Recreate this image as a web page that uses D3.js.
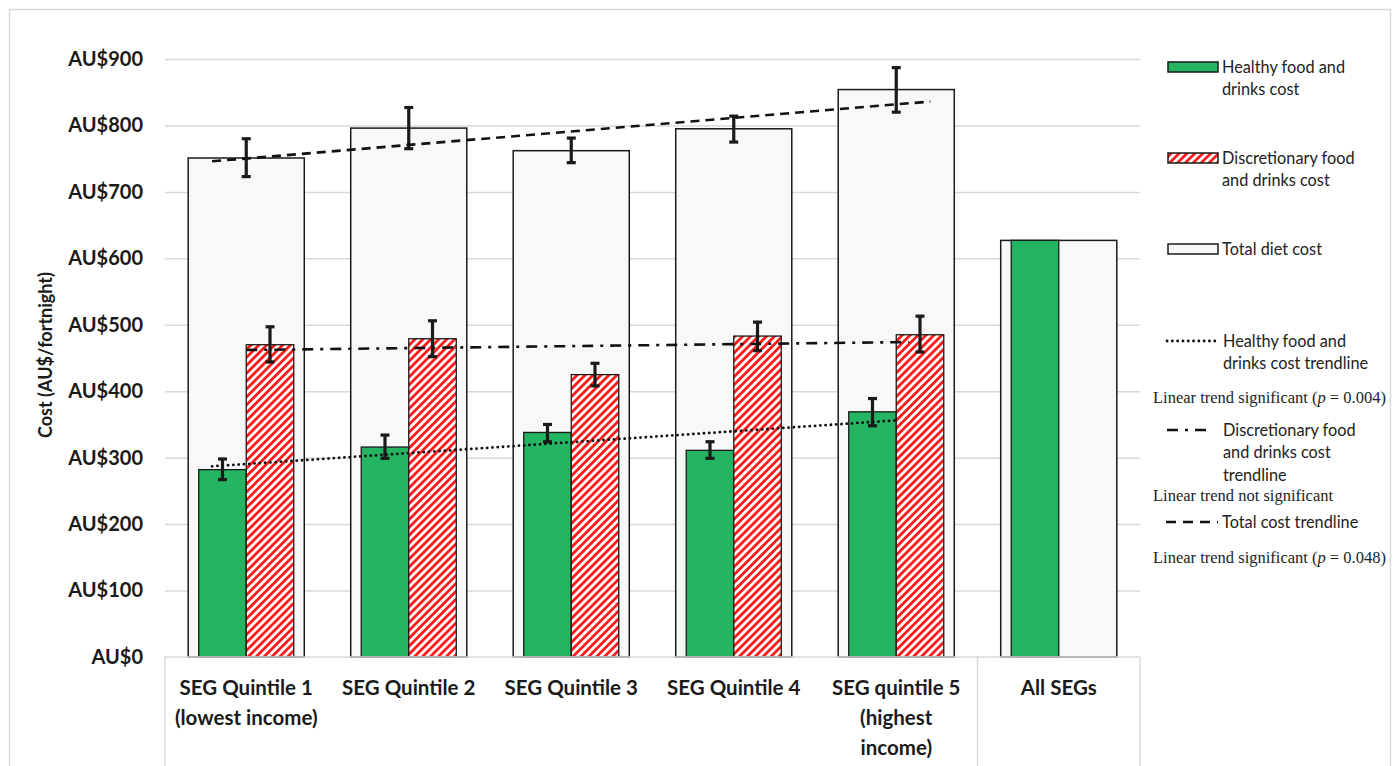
<!DOCTYPE html>
<html><head><meta charset="utf-8">
<script src="https://cdn.jsdelivr.net/npm/d3@7/dist/d3.min.js"></script>
<style>body{margin:0;background:#fff;}svg{display:block;}</style>
</head><body>
<svg id="chart" width="1400" height="766"></svg>
<script>
// ---------- data ----------
const categories = ["SEG Quintile 1|(lowest income)", "SEG Quintile 2", "SEG Quintile 3", "SEG Quintile 4", "SEG quintile 5|(highest|income)", "All SEGs"];
const totalCost      = [751, 796, 762, 795, 854, 627];
const totalLow       = [723, 765, 744, 775, 820, null];
const totalHigh      = [780, 827, 781, 814, 887, null];
const healthyCost    = [282, 316, 338, 311, 369, 627];
const healthyLow     = [267, 299, 324, 299, 348, null];
const healthyHigh    = [298, 334, 350, 324, 389, null];
const discCost       = [470, 479, 425, 483, 485, null];
const discLow        = [444, 452, 408, 461, 459, null];
const discHigh       = [497, 506, 442, 504, 513, null];
// trendlines: [category position, value]
const healthyTrend   = [[-0.21, 287], [3.99, 356]];
const discTrend      = [[0, 462], [4.08, 474]];
const totalTrend     = [[-0.21, 746], [4.21, 836]];
const yTicks         = [0, 100, 200, 300, 400, 500, 600, 700, 800, 900];

const svg = d3.select("#chart");
const green = "#25b562", red = "#ff1a1a", ink = "#1a1a1a", grid = "#d9d9d9";
const sans = "Lato, 'Open Sans', sans-serif";
const serif = "'Liberation Serif', 'DejaVu Serif', serif";

// hatch pattern
const defs = svg.append("defs");
const pat = defs.append("pattern").attr("id", "hatch").attr("patternUnits", "userSpaceOnUse")
  .attr("width", 5.6).attr("height", 5.6).attr("patternTransform", "rotate(45)");
pat.append("rect").attr("width", 5.6).attr("height", 5.6).attr("fill", "#fff");
pat.append("line").attr("x1", 1.4).attr("x2", 1.4).attr("y1", 0).attr("y2", 5.6)
  .attr("stroke", red).attr("stroke-width", 2.8);

// outer chart border
svg.append("rect").attr("x", 9.5).attr("y", 9.5).attr("width", 1381).attr("height", 820)
  .attr("fill", "none").attr("stroke", grid).attr("stroke-width", 1.5);

// scales
const x = d3.scaleBand().domain(categories).range([165, 1140]).paddingInner(0).paddingOuter(0);
const y = d3.scaleLinear().domain([0, 900]).range([657, 59]);
const totalW = x.bandwidth() / 1.4;
const clusterW = x.bandwidth() / 1.71;
const sub = d3.scaleBand().domain(["h", "d"]).range([0, clusterW]);
const pos = d3.scaleLinear().domain([0, 1]).range([x(categories[0]) + x.bandwidth() / 2, x(categories[1]) + x.bandwidth() / 2]);
const cx = c => x(c) + x.bandwidth() / 2;

// gridlines
svg.append("g").attr("transform", "translate(165,0)")
  .call(d3.axisLeft(y).tickValues(yTicks.slice(1)).tickSize(-(1140 - 165)).tickFormat(""))
  .call(g => g.select(".domain").remove())
  .call(g => g.selectAll("line").attr("stroke", grid).attr("stroke-width", 1.5));

// y tick labels
svg.append("g").attr("transform", "translate(165,0)")
  .call(d3.axisLeft(y).tickValues(yTicks).tickSize(0).tickPadding(22).tickFormat(d => "AU$" + d))
  .call(g => g.select(".domain").remove())
  .call(g => g.selectAll("text").attr("font-family", sans).attr("font-weight", "bold")
    .attr("font-size", 20).attr("fill", ink));

// y title
svg.append("text").attr("transform", `translate(52,355) rotate(-90)`).attr("text-anchor", "middle")
  .attr("font-family", sans).attr("font-weight", "bold").attr("font-size", 18).attr("fill", ink)
  .text("Cost (AU$/fortnight)");

// total bars
svg.append("g").selectAll("rect").data(categories).join("rect")
  .attr("x", c => cx(c) - totalW / 2).attr("width", totalW)
  .attr("y", (c, i) => y(totalCost[i])).attr("height", (c, i) => y(0) - y(totalCost[i]))
  .attr("fill", "#f8f8f8").attr("stroke", ink).attr("stroke-width", 1.5);

// healthy bars
svg.append("g").selectAll("rect").data(categories).join("rect")
  .attr("x", c => cx(c) - clusterW / 2 + sub("h")).attr("width", sub.bandwidth())
  .attr("y", (c, i) => y(healthyCost[i])).attr("height", (c, i) => y(0) - y(healthyCost[i]))
  .attr("fill", green).attr("stroke", ink).attr("stroke-width", 1.3);

// discretionary bars
svg.append("g").selectAll("rect").data(categories.filter((c, i) => discCost[i] != null)).join("rect")
  .attr("x", c => cx(c) - clusterW / 2 + sub("d")).attr("width", sub.bandwidth())
  .attr("y", (c, i) => y(discCost[i])).attr("height", (c, i) => y(0) - y(discCost[i]))
  .attr("fill", "url(#hatch)").attr("stroke", ink).attr("stroke-width", 1.3);

// error bars
function errBars(lows, highs, xf) {
  const g = svg.append("g").attr("stroke", "#1a1a1a");
  categories.forEach((c, i) => {
    if (lows[i] == null) return;
    const xx = xf(c);
    g.append("line").attr("x1", xx).attr("x2", xx).attr("y1", y(lows[i])).attr("y2", y(highs[i])).attr("stroke-width", 3.2);
    [lows[i], highs[i]].forEach(v => g.append("line").attr("x1", xx - 4.5).attr("x2", xx + 4.5)
      .attr("y1", y(v)).attr("y2", y(v)).attr("stroke-width", 3.2));
  });
}
errBars(totalLow, totalHigh, cx);
errBars(healthyLow, healthyHigh, c => cx(c) - clusterW / 2 + sub("h") + sub.bandwidth() / 2);
errBars(discLow, discHigh, c => cx(c) - clusterW / 2 + sub("d") + sub.bandwidth() / 2);

// trendlines
const line = d3.line().x(d => pos(d[0])).y(d => y(d[1]));
const trendStyles = {
  healthy: {dash: "0.1 5.2", cap: "round", w: 2.8},
  disc: {dash: "11 7 3 7", cap: "butt", w: 2.6},
  total: {dash: "9 6", cap: "butt", w: 2.6}
};
[[healthyTrend, trendStyles.healthy], [discTrend, trendStyles.disc], [totalTrend, trendStyles.total]].forEach(([d, s]) => {
  svg.append("path").attr("d", line(d)).attr("fill", "none").attr("stroke", "#111")
    .attr("stroke-width", s.w).attr("stroke-dasharray", s.dash).attr("stroke-linecap", s.cap);
});

// category axis box
const ax = svg.append("g").attr("stroke", grid).attr("stroke-width", 1.5);
ax.append("line").attr("x1", 165).attr("x2", 1140).attr("y1", y(0)).attr("y2", y(0));
[x(categories[0]), x(categories[5]), x(categories[5]) + x.bandwidth()].forEach(v =>
  ax.append("line").attr("x1", v).attr("x2", v).attr("y1", y(0)).attr("y2", 770));

// category labels
categories.forEach(c => {
  const t = svg.append("text").attr("text-anchor", "middle").attr("font-family", sans)
    .attr("font-weight", "bold").attr("font-size", 20.5).attr("fill", ink);
  c.split("|").forEach((ln, k) => t.append("tspan").attr("x", cx(c)).attr("y", 695 + k * 30).text(ln));
});

// legend
const lg = svg.append("g").attr("font-family", sans).attr("font-size", 16.3).attr("fill", "#222");
function swatch(yy, fill) {
  lg.append("rect").attr("x", 1168).attr("y", yy - 5).attr("width", 50).attr("height", 10)
    .attr("fill", fill).attr("stroke", ink).attr("stroke-width", 1.5);
}
function lines(xx, yy, arr) {
  arr.forEach((s, k) => lg.append("text").attr("x", xx).attr("y", yy + k * 22.5).attr("dy", "0.35em").text(s));
}
swatch(67, green); lines(1222, 67, ["Healthy food and", "drinks cost"]);
swatch(158, "url(#hatch)"); lines(1222, 158, ["Discretionary food", "and drinks cost"]);
swatch(249, "#f8f8f8"); lines(1222, 249, ["Total diet cost"]);

function legLine(x1, x2, yy, s) {
  lg.append("line").attr("x1", x1).attr("x2", x2).attr("y1", yy).attr("y2", yy).attr("stroke", "#111")
    .attr("stroke-width", s.w).attr("stroke-dasharray", s.dash).attr("stroke-linecap", s.cap);
}
legLine(1167, 1215, 341, trendStyles.healthy);
lines(1223, 341, ["Healthy food and", "drinks cost trendline"]);
function serifText(xx, yy, parts) {
  const t = lg.append("text").attr("x", xx).attr("y", yy).attr("dy", "0.35em")
    .attr("font-family", serif).attr("font-size", 16.5);
  parts.forEach(p => t.append("tspan").attr("font-style", p[1] ? "italic" : null).text(p[0]));
}
serifText(1153, 397, [["Linear trend significant ("], ["p", true], [" = 0.004)"]]);
legLine(1167, 1211, 430, {dash: "11 7 3 7", cap: "butt", w: 2.6});
lines(1223, 430, ["Discretionary food", "and drinks cost", "trendline"]);
serifText(1153, 495, [["Linear trend not significant"]]);
legLine(1166, 1218, 522, {dash: "10 7", cap: "butt", w: 2.6});
lines(1222, 522, ["Total cost trendline"]);
serifText(1153, 557, [["Linear trend significant ("], ["p", true], [" = 0.048)"]]);
</script>
</body></html>
